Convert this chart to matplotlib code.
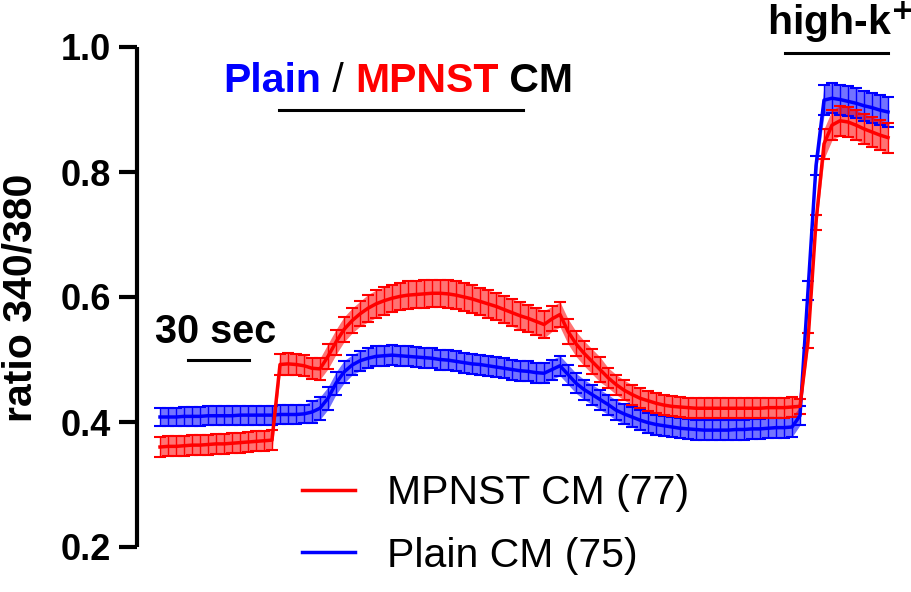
import numpy as np
import matplotlib
matplotlib.use("Agg")
import matplotlib.pyplot as plt
from matplotlib.lines import Line2D

plt.rcParams['font.family'] = ['Liberation Sans', 'DejaVu Sans']

# time (s), sampled every 4 s
time_s = list(range(0, 368, 4))

plain_mean = [
    0.408, 0.408, 0.408, 0.409, 0.409, 0.409, 0.410, 0.410, 0.410, 0.410,
    0.411, 0.411, 0.411, 0.411, 0.411, 0.412, 0.412, 0.412, 0.413, 0.416,
    0.422, 0.438, 0.462, 0.480, 0.491, 0.498, 0.502, 0.505, 0.506, 0.507,
    0.506, 0.505, 0.504, 0.503, 0.502, 0.500, 0.499, 0.497, 0.495, 0.493,
    0.492, 0.490, 0.488, 0.486, 0.484, 0.482, 0.481, 0.479, 0.478, 0.484,
    0.490, 0.476, 0.462, 0.452, 0.444, 0.436, 0.428, 0.419, 0.413, 0.408,
    0.403, 0.399, 0.396, 0.394, 0.392, 0.390, 0.389, 0.388, 0.387, 0.387,
    0.387, 0.387, 0.388, 0.388, 0.389, 0.389, 0.390, 0.391, 0.391, 0.392,
    0.410, 0.610, 0.810, 0.915, 0.918, 0.916, 0.913, 0.910, 0.906, 0.903,
    0.899, 0.896,
]
plain_sem = [
    0.015, 0.015, 0.015, 0.015, 0.015, 0.015, 0.015, 0.015, 0.015, 0.015,
    0.015, 0.015, 0.015, 0.015, 0.015, 0.015, 0.015, 0.015, 0.015, 0.018,
    0.018, 0.018, 0.018, 0.018, 0.016, 0.016, 0.016, 0.016, 0.016, 0.016,
    0.016, 0.016, 0.016, 0.016, 0.016, 0.016, 0.016, 0.016, 0.016, 0.016,
    0.016, 0.016, 0.016, 0.016, 0.016, 0.016, 0.016, 0.016, 0.016, 0.016,
    0.016, 0.016, 0.016, 0.016, 0.016, 0.016, 0.016, 0.016, 0.016, 0.016,
    0.016, 0.016, 0.016, 0.016, 0.016, 0.016, 0.016, 0.016, 0.016, 0.016,
    0.016, 0.016, 0.016, 0.016, 0.016, 0.016, 0.016, 0.016, 0.016, 0.016,
    0.015, 0.015, 0.015, 0.024, 0.024, 0.024, 0.024, 0.024, 0.024, 0.024,
    0.024, 0.024,
]
mpnst_mean = [
    0.360, 0.361, 0.361, 0.362, 0.363, 0.363, 0.364, 0.365, 0.365, 0.366,
    0.367, 0.368, 0.369, 0.370, 0.371, 0.492, 0.493, 0.492, 0.490, 0.486,
    0.485, 0.505, 0.528, 0.548, 0.562, 0.573, 0.582, 0.589, 0.594, 0.598,
    0.601, 0.603, 0.604, 0.605, 0.606, 0.606, 0.605, 0.603, 0.600, 0.597,
    0.593, 0.589, 0.585, 0.580, 0.575, 0.570, 0.566, 0.561, 0.556, 0.565,
    0.572, 0.545, 0.525, 0.510, 0.497, 0.484, 0.471, 0.460, 0.451, 0.444,
    0.438, 0.434, 0.430, 0.427, 0.425, 0.424, 0.423, 0.422, 0.422, 0.422,
    0.422, 0.422, 0.422, 0.422, 0.422, 0.422, 0.423, 0.423, 0.423, 0.424,
    0.425, 0.530, 0.720, 0.845, 0.875, 0.882, 0.880, 0.875, 0.869, 0.864,
    0.859, 0.855,
]
mpnst_sem = [
    0.016, 0.016, 0.016, 0.016, 0.016, 0.016, 0.016, 0.016, 0.016, 0.016,
    0.016, 0.016, 0.016, 0.016, 0.016, 0.017, 0.017, 0.017, 0.017, 0.017,
    0.017, 0.020, 0.020, 0.020, 0.020, 0.020, 0.022, 0.022, 0.022, 0.022,
    0.022, 0.022, 0.022, 0.022, 0.022, 0.022, 0.022, 0.022, 0.022, 0.022,
    0.022, 0.022, 0.022, 0.022, 0.022, 0.022, 0.022, 0.022, 0.022, 0.020,
    0.020, 0.020, 0.020, 0.020, 0.020, 0.020, 0.016, 0.016, 0.016, 0.016,
    0.016, 0.016, 0.016, 0.016, 0.016, 0.016, 0.016, 0.016, 0.016, 0.016,
    0.016, 0.016, 0.016, 0.016, 0.016, 0.016, 0.016, 0.016, 0.016, 0.016,
    0.012, 0.012, 0.012, 0.024, 0.024, 0.024, 0.024, 0.024, 0.024, 0.024,
    0.024, 0.024,
]

series_labels = ["MPNST CM (77)", "Plain CM (75)"]
yticks = [0.2, 0.4, 0.6, 0.8, 1.0]

RED = "#ff0000"
BLUE = "#0000ff"

W, H = 912, 592
fig = plt.figure(figsize=(W / 100, H / 100), dpi=100)
ax = fig.add_axes([137 / W, (H - 547) / H, (900 - 137) / W, 500 / H])

t = np.array(time_s)
for mean, sem, col in [(plain_mean, plain_sem, BLUE), (mpnst_mean, mpnst_sem, RED)]:
    mean = np.array(mean)
    sem = np.array(sem)
    ax.fill_between(t, mean - sem, mean + sem, color=col, alpha=0.55, lw=0)
    ax.errorbar(t, mean, yerr=sem, color=col, lw=2.5, elinewidth=1.0,
                capsize=4, capthick=1.5)

ax.set_xlim(-11.5, 370)
ax.set_ylim(0.2, 1.0)
ax.set_yticks(yticks)
ax.set_yticklabels([f"{v:.1f}" for v in yticks], fontsize=26, fontweight='bold')
for s in ['top', 'right', 'bottom']:
    ax.spines[s].set_visible(False)
ax.spines['left'].set_linewidth(3)
ax.spines['left'].set_capstyle('butt')
ax.tick_params(axis='y', length=13, width=3, pad=6)
ax.set_xticks([])
ax.patch.set_visible(False)

fig.text(21 / W, 1 - 298 / H, "ratio 340/380", rotation=90, fontsize=29.5,
         fontweight='bold', ha='center', va='center')

# title: Plain / MPNST CM
fs = 29.5
ty = 1 - 92 / H
txt1 = fig.text(223 / W, ty, "Plain", color=BLUE, fontsize=fs, fontweight='bold',
                ha='left', va='baseline')
fig.canvas.draw()
r = fig.canvas.get_renderer()
x = txt1.get_window_extent(r).x1
txt2 = fig.text(x / W, ty, " / ", color='black', fontsize=fs, ha='left', va='baseline')
x = txt2.get_window_extent(r).x1
txt3 = fig.text(x / W, ty, "MPNST", color=RED, fontsize=fs, fontweight='bold',
                ha='left', va='baseline')
x = txt3.get_window_extent(r).x1
fig.text(x / W, ty, " CM", color='black', fontsize=fs, fontweight='bold',
         ha='left', va='baseline')
fig.add_artist(Line2D([279 / W, 523 / W], [1 - 110 / H, 1 - 110 / H], color='black', lw=2.2))

# high-k+
fig.text(767 / W, 1 - 35 / H, r"high-k$^{\mathbf{+}}$", fontsize=fs, fontweight='bold',
         ha='left', va='baseline')
fig.add_artist(Line2D([785 / W, 888 / W], [1 - 53 / H, 1 - 53 / H], color='black', lw=2.2))

# 30 sec scale
fig.text(155 / W, 1 - 343 / H, "30 sec", fontsize=28.5, fontweight='bold',
         ha='left', va='baseline')
fig.add_artist(Line2D([188 / W, 249 / W], [1 - 360 / H, 1 - 360 / H], color='black', lw=2.2))

# legend
handles = [Line2D([], [], color=RED, lw=2.5), Line2D([], [], color=BLUE, lw=2.5)]
leg = ax.legend(handles, series_labels, loc='upper left', frameon=False,
                bbox_to_anchor=(302 / W, 1 - 474 / H), bbox_transform=fig.transFigure,
                fontsize=29.5, handlelength=1.3, handletextpad=0.78,
                labelspacing=0.6, borderpad=0, borderaxespad=0)

fig.savefig("out.png", dpi=100)
